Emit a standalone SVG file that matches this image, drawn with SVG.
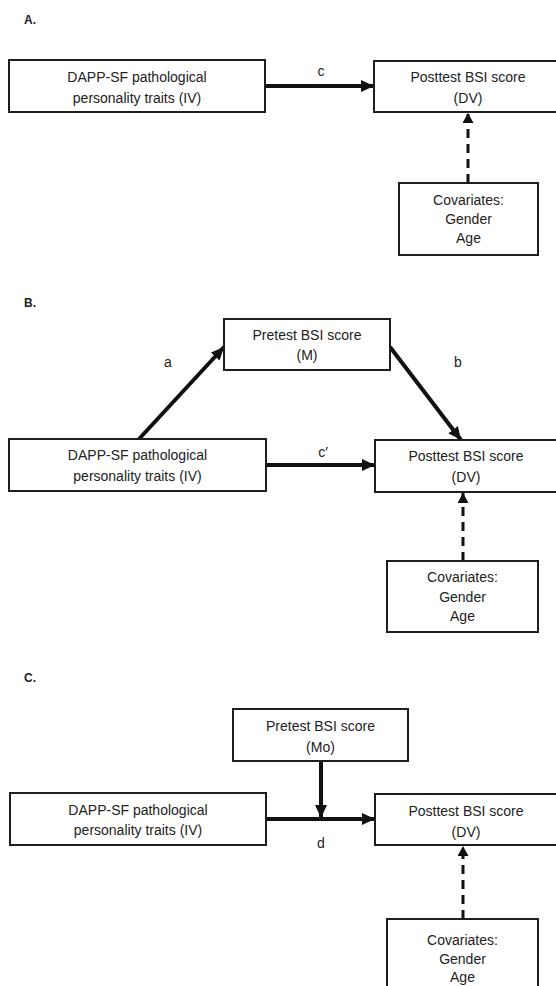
<svg xmlns="http://www.w3.org/2000/svg" width="556" height="986" viewBox="0 0 556 986">
<style>
.box{fill:#fff;stroke:#1e1e1e;stroke-width:2}
.t{font-family:"Liberation Sans",Arial,sans-serif;font-size:14px;fill:#222;text-anchor:middle}
.h{font-family:"Liberation Sans",Arial,sans-serif;font-size:12px;font-weight:bold;fill:#222}
.solid{stroke:#111;stroke-width:4;fill:none;marker-end:url(#ah)}
.dash{stroke:#111;stroke-width:3;fill:none;stroke-dasharray:9 6;marker-end:url(#ahd)}
</style>
<defs>
<marker id="ah" markerUnits="userSpaceOnUse" markerWidth="14" markerHeight="12" refX="13" refY="6" orient="auto"><path d="M0,0 L13,6 L0,12 z" fill="#111"/></marker>
<marker id="ahd" markerUnits="userSpaceOnUse" markerWidth="11" markerHeight="11" refX="10" refY="5.5" orient="auto"><path d="M0,0 L10,5.5 L0,11 z" fill="#111"/></marker>
</defs>
<rect width="556" height="986" fill="#fff"/>
<text class="h" x="24" y="24">A.</text>
<text class="h" x="24" y="307">B.</text>
<text class="h" x="24" y="682">C.</text>
<g id="connectors">
<line class="solid" x1="265" y1="86" x2="374" y2="86"/>
<line class="dash" x1="468" y1="183" x2="468" y2="113"/>
<line class="solid" x1="139" y1="439" x2="224" y2="347"/>
<line class="solid" x1="390" y1="347" x2="461" y2="440"/>
<line class="solid" x1="266" y1="465" x2="375" y2="465"/>
<line class="dash" x1="463" y1="561" x2="463" y2="493"/>
<line class="solid" x1="266" y1="819" x2="375" y2="819"/>
<line class="solid" x1="321" y1="761" x2="321" y2="818"/>
<line class="dash" x1="463" y1="919" x2="463" y2="846"/>
</g>
<g id="labels">
<text class="t" x="321" y="76">c</text>
<text class="t" x="168" y="367">a</text>
<text class="t" x="458" y="367">b</text>
<text class="t" x="323" y="457">c′</text>
<text class="t" x="321" y="848">d</text>
</g>
<g id="A_iv"><rect class="box" x="9" y="60" width="256" height="52"/><text class="t" x="137" y="82">DAPP-SF pathological</text><text class="t" x="137" y="103">personality traits (IV)</text></g>
<g id="A_dv"><rect class="box" x="374" y="61" width="189" height="51"/><text class="t" x="468" y="82">Posttest BSI score</text><text class="t" x="468" y="103">(DV)</text></g>
<g id="A_cov"><rect class="box" x="399" y="183" width="139" height="72"/><text class="t" x="468.5" y="205">Covariates:</text><text class="t" x="468.5" y="224">Gender</text><text class="t" x="468.5" y="243">Age</text></g>
<g id="B_m"><rect class="box" x="224" y="319" width="166" height="51"/><text class="t" x="307" y="340">Pretest BSI score</text><text class="t" x="307" y="360">(M)</text></g>
<g id="B_iv"><rect class="box" x="9" y="439" width="257" height="52"/><text class="t" x="137.5" y="460">DAPP-SF pathological</text><text class="t" x="137.5" y="481">personality traits (IV)</text></g>
<g id="B_dv"><rect class="box" x="375" y="440" width="188" height="52"/><text class="t" x="466" y="461">Posttest BSI score</text><text class="t" x="466" y="482">(DV)</text></g>
<g id="B_cov"><rect class="box" x="387" y="561" width="151" height="71"/><text class="t" x="462.5" y="582">Covariates:</text><text class="t" x="462.5" y="602">Gender</text><text class="t" x="462.5" y="621">Age</text></g>
<g id="C_mo"><rect class="box" x="233" y="709" width="175" height="52"/><text class="t" x="320.5" y="731">Pretest BSI score</text><text class="t" x="320.5" y="752">(Mo)</text></g>
<g id="C_iv"><rect class="box" x="10" y="793" width="256" height="52"/><text class="t" x="138" y="815">DAPP-SF pathological</text><text class="t" x="138" y="835">personality traits (IV)</text></g>
<g id="C_dv"><rect class="box" x="375" y="794" width="188" height="51"/><text class="t" x="466" y="816">Posttest BSI score</text><text class="t" x="466" y="837">(DV)</text></g>
<g id="C_cov"><rect class="box" x="387" y="919" width="151" height="75"/><text class="t" x="462.5" y="945">Covariates:</text><text class="t" x="462.5" y="964">Gender</text><text class="t" x="462.5" y="982">Age</text></g>
</svg>
